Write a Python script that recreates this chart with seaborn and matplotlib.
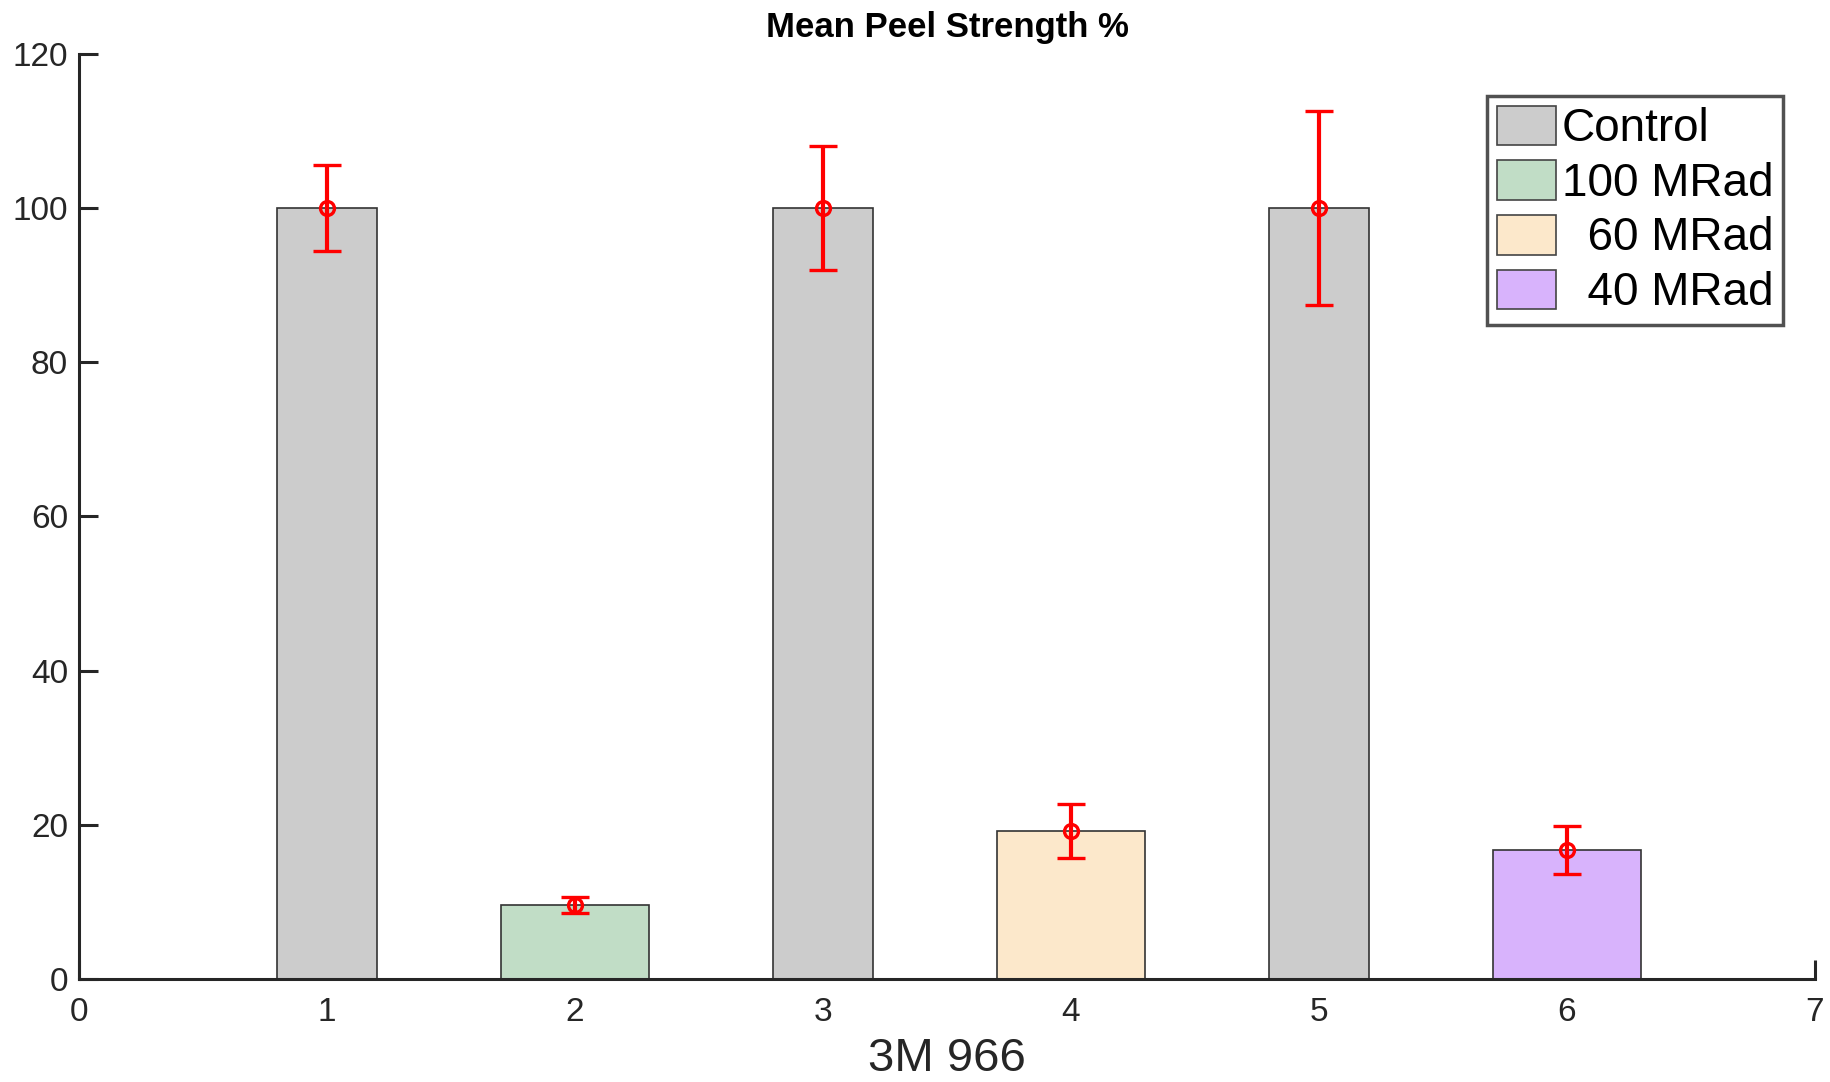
import matplotlib
matplotlib.use("Agg")
import matplotlib.pyplot as plt
import seaborn as sns
import pandas as pd
from matplotlib.patches import Patch

# Data
control_x = [1, 3, 5]
control_vals = [100.0, 100.0, 100.0]
control_err = [5.6, 8.0, 12.6]

treated_x = [2, 4, 6]
treated_labels = ["100 MRad", "60 MRad", "40 MRad"]
treated_vals = [9.6, 19.2, 16.7]
treated_err = [1.1, 3.5, 3.1]

legend_labels = ["Control", "100 MRad", "  60 MRad", "  40 MRad"]
colors = ["#cccccc", "#c1ddc6", "#fce8cb", "#d8b3fc"]

sns.set_theme(style="white")
plt.rcParams["font.family"] = ["Liberation Sans", "DejaVu Sans"]

fig = plt.figure(figsize=(18.3, 10.82), dpi=100)
ax = fig.add_axes([0.0432, 0.0952, 0.9486, 0.855])

axis_col = "#262626"

df_c = pd.DataFrame({"x": control_x, "y": control_vals, "g": ["Control"] * 3})
df_t = pd.DataFrame({"x": treated_x, "y": treated_vals, "g": treated_labels})

sns.barplot(data=df_c, x="x", y="y", hue="g", palette={"Control": colors[0]},
            native_scale=True, width=0.2, edgecolor="#333333", linewidth=1.2,
            legend=False, ax=ax, errorbar=None, saturation=1)
sns.barplot(data=df_t, x="x", y="y", hue="g",
            palette=dict(zip(treated_labels, colors[1:])),
            native_scale=True, width=0.3, edgecolor="#333333", linewidth=1.2,
            legend=False, ax=ax, errorbar=None, saturation=1, dodge=False)

all_x = control_x + treated_x
all_y = control_vals + treated_vals
all_e = control_err + treated_err
ax.errorbar(all_x, all_y, yerr=all_e, fmt="o", color="#ff0000", mfc="none",
            mec="#ff0000", mew=2.4, ms=10, elinewidth=3, capsize=10,
            capthick=3, zorder=5)

ax.set_xlim(0, 7)
ax.set_ylim(0, 120)
ax.set_xticks(range(0, 8))
ax.set_xticklabels([str(i) for i in range(0, 8)])
ax.set_yticks(range(0, 121, 20))
ax.set_xlabel("")
ax.set_ylabel("")
fig.text(0.5175, 1 - 1071 / 1082, "3M 966", fontsize=34, color=axis_col,
         ha="center", va="baseline")
ax.set_title("Mean Peel Strength %", fontsize=25, fontweight="bold",
             color="black", pad=12)

for s in ["top", "right"]:
    ax.spines[s].set_visible(False)
for s in ["left", "bottom"]:
    ax.spines[s].set_color(axis_col)
    ax.spines[s].set_linewidth(2.2)
ax.tick_params(axis="both", which="major", direction="in", length=14,
               width=2.2, colors=axis_col, labelsize=24, pad=8,
               bottom=True, left=True, top=False, right=False)
ax.tick_params(axis="x", pad=13)
ax.grid(False)

handles = [Patch(facecolor=c, edgecolor="#444444", linewidth=1.2) for c in colors]
leg = ax.legend(handles, legend_labels, loc="upper right",
                bbox_to_anchor=(0.9818, 0.955), fontsize=33, frameon=True,
                fancybox=False, edgecolor="#262626", handlelength=1.3,
                handleheight=0.95, handletextpad=0.12, labelspacing=0.2,
                borderpad=0.22, borderaxespad=0, labelcolor="black")
leg.get_frame().set_linewidth(2.5)

fig.savefig("out.png", dpi=100, facecolor="white")
